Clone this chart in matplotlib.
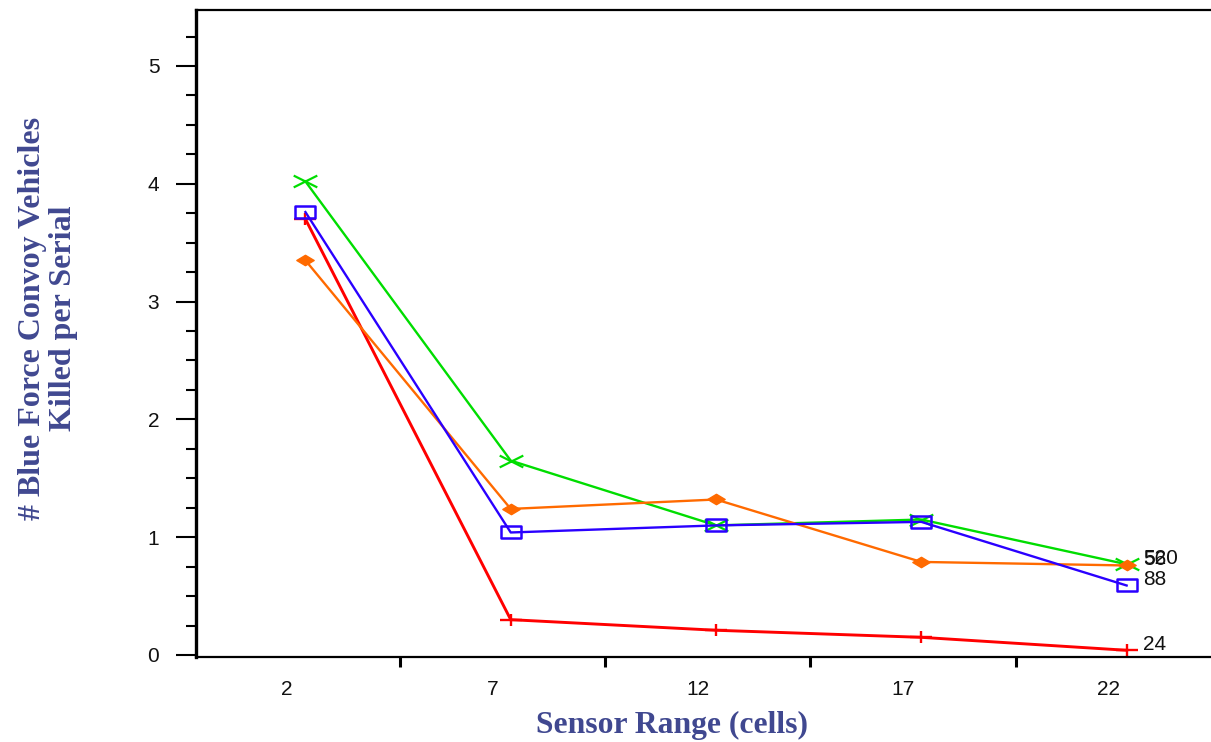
import matplotlib
matplotlib.use("Agg")
import matplotlib.pyplot as plt
from matplotlib.path import Path
import numpy as np

# ---- data ----
sensor_range = ["2", "7", "12", "17", "22"]
green_vals = [4.02, 1.65, 1.10, 1.15, 0.77]
blue_vals = [3.76, 1.04, 1.10, 1.13, 0.59]
orange_vals = [3.35, 1.24, 1.32, 0.79, 0.76]
red_vals = [3.70, 0.30, 0.21, 0.15, 0.04]
end_labels = {"green": "520", "orange": "56", "blue": "88", "red": "24"}

xlabel = "Sensor Range (cells)"
ylabel = "# Blue Force Convoy Vehicles\nKilled per Serial"

# ---- markers ----
x_mark = Path([(-1, -0.5), (1, 0.5), (-1, 0.5), (1, -0.5)],
              [Path.MOVETO, Path.LINETO, Path.MOVETO, Path.LINETO])
rect_mark = Path([(-1, -0.58), (1, -0.58), (1, 0.58), (-1, 0.58), (-1, -0.58)],
                 [Path.MOVETO, Path.LINETO, Path.LINETO, Path.LINETO, Path.CLOSEPOLY])
diam_mark = Path([(-1, 0), (0, 0.6), (1, 0), (0, -0.6), (-1, 0)],
                 [Path.MOVETO, Path.LINETO, Path.LINETO, Path.LINETO, Path.CLOSEPOLY])
plus_mark = Path([(-1, 0), (1, 0), (0, -0.56), (0, 0.56)],
                 [Path.MOVETO, Path.LINETO, Path.MOVETO, Path.LINETO])

fig = plt.figure(figsize=(12.11, 7.42), dpi=100)
ax = fig.add_axes([196 / 1211, 85 / 742, 1 - 196 / 1211, (657 - 10) / 742])

xi = np.arange(len(sensor_range))
c_green, c_blue, c_orange, c_red = "#00dd00", "#2a00ff", "#ff6a00", "#ff0000"

ax.plot(xi, red_vals, color=c_red, lw=2.1, marker=plus_mark, ms=16.5,
        mew=1.7, mec=c_red, zorder=2)
ax.plot(xi, green_vals, color=c_green, lw=1.7, marker=x_mark, ms=17,
        mew=1.6, mec=c_green, zorder=3)
ax.plot(xi, orange_vals, color=c_orange, lw=1.7, marker=diam_mark, ms=12.5,
        mfc=c_orange, mec=c_orange, mew=1, zorder=4)
ax.plot(xi, blue_vals, color=c_blue, lw=1.7, marker=rect_mark, ms=13.8,
        mfc="none", mec=c_blue, mew=1.8, zorder=5)

for vals, key in [(green_vals, "green"), (orange_vals, "orange"),
                  (blue_vals, "blue"), (red_vals, "red")]:
    ax.annotate(end_labels[key], (xi[-1], vals[-1]), xytext=(12, 4),
                textcoords="offset points", va="center", ha="left",
                fontsize=15, family="Liberation Sans", color="#111111")

ax.set_xlim(-0.533, 4.411)
ax.set_ylim(-0.017, 5.475)

# y ticks
ax.set_yticks(np.arange(0, 6, 1))
ax.set_yticks(np.arange(0, 5.5, 0.25), minor=True)
ax.tick_params(axis="y", which="major", length=14.4, width=1.5, pad=12,
               labelsize=15, direction="out")
ax.tick_params(axis="y", which="minor", length=7.2, width=1.5, direction="out")

# x ticks: labels offset from points, tick marks between categories
ax.set_xticks(xi - 0.09)
ax.set_xticklabels(sensor_range)
ax.set_xticks(xi[:-1] + 0.46, minor=True)
ax.tick_params(axis="x", which="major", length=0, pad=16.5, labelsize=15)
ax.tick_params(axis="x", which="minor", length=7.5, width=2.2, direction="out")

for lab in ax.get_xticklabels() + ax.get_yticklabels():
    lab.set_family("Liberation Sans")
    lab.set_color("#111111")

ax.spines["right"].set_visible(False)
ax.spines["left"].set_linewidth(2.4)
ax.spines["top"].set_linewidth(1.6)
ax.spines["bottom"].set_linewidth(1.6)

label_color = "#404890"
fig.text(672 / 1211, 1 - 725 / 742, xlabel, ha="center", va="center",
         fontsize=22.8, fontweight="bold", family="Liberation Serif", color=label_color)
fig.text(48 / 1211, 1 - 318 / 742, ylabel, ha="center", va="center", rotation=90,
         fontsize=23, fontweight="bold", family="Liberation Serif", color=label_color,
         multialignment="center", linespacing=1.12)

fig.savefig("out.png", dpi=100)
